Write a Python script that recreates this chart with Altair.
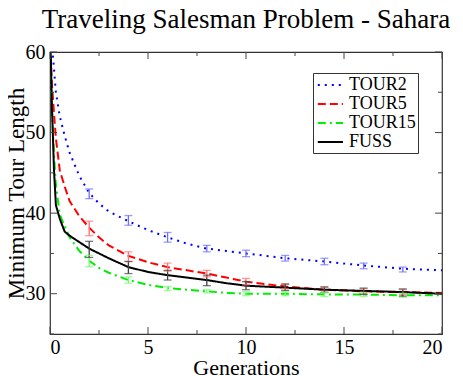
import altair as alt
import pandas as pd

# ---------------- data ----------------
series_names = ["TOUR2", "TOUR5", "TOUR15", "FUSS"]

gen_tour2 = [0.0, 0.1, 0.2, 0.3, 0.5, 0.75, 1.0, 1.5, 2.0, 2.5, 3.0, 4.0, 5.0, 6.0, 7.0, 8.0, 9.0, 10.0, 12.0, 14.0, 16.0, 18.0, 20.0]
val_tour2 = [63.0, 61.0, 58.0, 55.0, 52.0, 49.6, 47.5, 44.6, 42.5, 41.2, 40.2, 39.0, 37.9, 37.0, 36.2, 35.6, 35.3, 35.0, 34.4, 34.0, 33.5, 33.1, 32.9]

gen_tour5 = [0.0, 0.1, 0.2, 0.3, 0.5, 0.75, 1.0, 1.5, 2.0, 2.5, 3.0, 4.0, 5.0, 6.0, 7.0, 8.0, 9.0, 10.0, 12.0, 14.0, 16.0, 18.0, 20.0]
val_tour5 = [61.0, 56.0, 52.5, 49.3, 45.3, 43.3, 41.5, 39.6, 38.2, 37.0, 36.0, 34.7, 33.9, 33.3, 32.9, 32.5, 32.0, 31.5, 30.9, 30.5, 30.3, 30.2, 30.1]

gen_tour15 = [0.0, 0.05, 0.1, 0.2, 0.3, 0.5, 0.75, 1.0, 1.5, 2.0, 2.5, 3.0, 4.0, 5.0, 6.0, 7.0, 8.0, 9.0, 10.0, 12.0, 14.0, 16.0, 18.0, 20.0]
val_tour15 = [62.0, 57.0, 53.0, 47.5, 43.5, 39.8, 38.4, 37.0, 35.3, 34.1, 33.2, 32.6, 31.7, 31.1, 30.7, 30.5, 30.3, 30.1, 30.0, 30.0, 29.9, 29.9, 29.8, 29.8]

gen_fuss = [0.0, 0.05, 0.1, 0.15, 0.2, 0.3, 0.5, 0.75, 1.0, 1.5, 2.0, 2.5, 3.0, 4.0, 5.0, 6.0, 7.0, 8.0, 9.0, 10.0, 12.0, 14.0, 16.0, 18.0, 20.0]
val_fuss = [62.0, 58.5, 53.0, 49.5, 45.5, 41.0, 39.3, 37.7, 37.2, 36.4, 35.6, 35.0, 34.4, 33.3, 32.7, 32.3, 32.0, 31.7, 31.3, 31.0, 30.75, 30.5, 30.35, 30.2, 30.0]

err_gen = [2, 4, 6, 8, 10, 12, 14, 16, 18]
err_mid_tour2 = [42.4, 39.1, 37.0, 35.6, 35.0, 34.4, 34.0, 33.45, 33.0]
err_half_tour2 = [0.6, 0.6, 0.6, 0.4, 0.4, 0.35, 0.4, 0.35, 0.3]
err_mid_tour5 = [38.1, 34.6, 33.3, 32.5, 31.5, 30.9, 30.5, 30.3, 30.2]
err_half_tour5 = [0.9, 0.6, 0.5, 0.4, 0.4, 0.3, 0.3, 0.3, 0.3]
err_mid_tour15 = [34.05, 31.7, 30.65, 30.3, 30.0, 30.0, 29.9, 29.9, 29.8]
err_half_tour15 = [0.7, 0.4, 0.25, 0.2, 0.25, 0.25, 0.25, 0.25, 0.25]
err_mid_fuss = [35.5, 33.25, 32.3, 31.65, 31.0, 30.8, 30.5, 30.3, 30.15]
err_half_fuss = [1.0, 0.75, 0.6, 0.65, 0.5, 0.4, 0.35, 0.4, 0.45]

x_major = [0, 5, 10, 15, 20]
x_minor = [2.5, 7.5, 12.5, 17.5]
y_major = [30, 40, 50, 60]
y_minor = [25, 35, 45, 55]

title_text = "Traveling Salesman Problem - Sahara"
x_title = "Generations"
y_title = "Minimum Tour Length"

# ---------------- styling ----------------
FONT = "Times New Roman, Liberation Serif, Times, serif"
line_colors = ["#0000ff", "#ff0000", "#00ee00", "#000000"]
err_colors = ["#7070ff", "#ff7070", "#70ff70", "#404040"]
dashes = [[2, 5], [8, 4], [8, 4, 2, 4], [1, 0]]
W, H = 392, 282

# ---------------- tables ----------------
rows = []
for name, g, v in [("TOUR2", gen_tour2, val_tour2), ("TOUR5", gen_tour5, val_tour5),
                   ("TOUR15", gen_tour15, val_tour15), ("FUSS", gen_fuss, val_fuss)]:
    for i, (a, b) in enumerate(zip(g, v)):
        rows.append({"series": name, "gen": a, "len": b, "order": i})
lines_df = pd.DataFrame(rows)

erows = []
for name, m, h in [("TOUR2", err_mid_tour2, err_half_tour2), ("TOUR5", err_mid_tour5, err_half_tour5),
                   ("TOUR15", err_mid_tour15, err_half_tour15), ("FUSS", err_mid_fuss, err_half_fuss)]:
    for a, b, c in zip(err_gen, m, h):
        erows.append({"series": name, "gen": a, "lo": b - c, "hi": b + c})
err_df = pd.DataFrame(erows)

xs = alt.Scale(domain=[0, 20], nice=False)
ys = alt.Scale(domain=[25, 60], nice=False)

label_font_expr = alt.ExprRef(expr="'" + FONT + "'")

x_axis = alt.Axis(values=x_major, ticks=False, domain=False, grid=False, labelFont=label_font_expr,
                  labelFontSize=20, labelColor="black", labelPadding=3, title=x_title,
                  titleFont=FONT, titleFontSize=22, titleFontWeight="normal", titleColor="black",
                  titlePadding=0, format="d")
y_axis = alt.Axis(values=y_major, ticks=False, domain=False, grid=False, labelFont=label_font_expr,
                  labelFontSize=20, labelColor="black", labelPadding=5, title=y_title,
                  titleFont=FONT, titleFontSize=23, titleFontWeight="normal", titleColor="black",
                  titleBaseline="alphabetic", titlePadding=2, format="d")

legend = alt.Legend(title=None, orient="none", legendX=263, legendY=21,
                    symbolType="M-0.8,0H2", symbolSize=324, symbolStrokeWidth=2,
                    labelFont=FONT, labelFontSize=18, labelColor="black", labelOffset=14,
                    strokeColor="#333333", fillColor="white", padding=2, rowPadding=0,
                    labelLimit=200)

X = lambda f: alt.X(f, scale=xs, axis=x_axis)
Y = lambda f: alt.Y(f, scale=ys, axis=y_axis)

lines = alt.Chart(lines_df).mark_line(strokeWidth=2, clip=True).encode(
    x=X("gen:Q"),
    y=Y("len:Q"),
    color=alt.Color("series:N", scale=alt.Scale(domain=series_names, range=line_colors), legend=legend),
    strokeDash=alt.StrokeDash("series:N", scale=alt.Scale(domain=series_names, range=dashes), legend=legend),
    order="order:Q",
)

err_color = alt.Color("series:N", scale=alt.Scale(domain=series_names, range=err_colors), legend=None)
err_rule = alt.Chart(err_df).mark_rule(strokeWidth=1.3).encode(
    x=X("gen:Q"), y=Y("lo:Q"), y2="hi:Q", color=err_color)
err_lo = alt.Chart(err_df).mark_tick(orient="horizontal", size=8, thickness=1.3).encode(
    x=X("gen:Q"), y=Y("lo:Q"), color=err_color)
err_hi = alt.Chart(err_df).mark_tick(orient="horizontal", size=8, thickness=1.3).encode(
    x=X("gen:Q"), y=Y("hi:Q"), color=err_color)

tick_color = "#444444"
xmaj = pd.DataFrame({"v": x_major})
xmin = pd.DataFrame({"v": x_minor})
ymaj = pd.DataFrame({"v": y_major})
ymin = pd.DataFrame({"v": y_minor})


def xticks(df, length):
    b = alt.Chart(df).mark_rule(color=tick_color, strokeWidth=1).encode(
        x=X("v:Q"), y=alt.value(H), y2=alt.value(H - length))
    t = alt.Chart(df).mark_rule(color=tick_color, strokeWidth=1).encode(
        x=X("v:Q"), y=alt.value(0), y2=alt.value(length))
    return b + t


def yticks(df, length):
    l = alt.Chart(df).mark_rule(color=tick_color, strokeWidth=1).encode(
        y=Y("v:Q"), x=alt.value(0), x2=alt.value(length))
    r = alt.Chart(df).mark_rule(color=tick_color, strokeWidth=1).encode(
        y=Y("v:Q"), x=alt.value(W), x2=alt.value(W - length))
    return l + r


ticks = xticks(xmaj, 7) + xticks(xmin, 4) + yticks(ymaj, 7) + yticks(ymin, 4)

chart = alt.layer(lines, err_rule, err_lo, err_hi, ticks).resolve_scale(
    color="independent", strokeDash="independent"
).properties(
    width=W, height=H,
    title=alt.TitleParams(title_text, font=FONT, fontSize=27, fontWeight="normal", color="black",
                          anchor="middle", offset=8),
    autosize=alt.AutoSizeParams(type="none"),
    padding={"left": 42, "top": 44, "right": 13, "bottom": 42},
).configure(
    font=FONT,
    style={"guide-label": {"font": FONT}, "guide-title": {"font": FONT}},
).configure_axis(labelFont=FONT, titleFont=FONT).configure_axisX(
    labelFont=FONT).configure_axisY(labelFont=FONT).configure_axisQuantitative(
    labelFont=FONT).configure_legend(labelFont=FONT).configure_title(font=FONT).configure_view(
    stroke="#333333", strokeWidth=1.2)

chart.save("out.html", embed_options={"renderer": "svg", "actions": False})
